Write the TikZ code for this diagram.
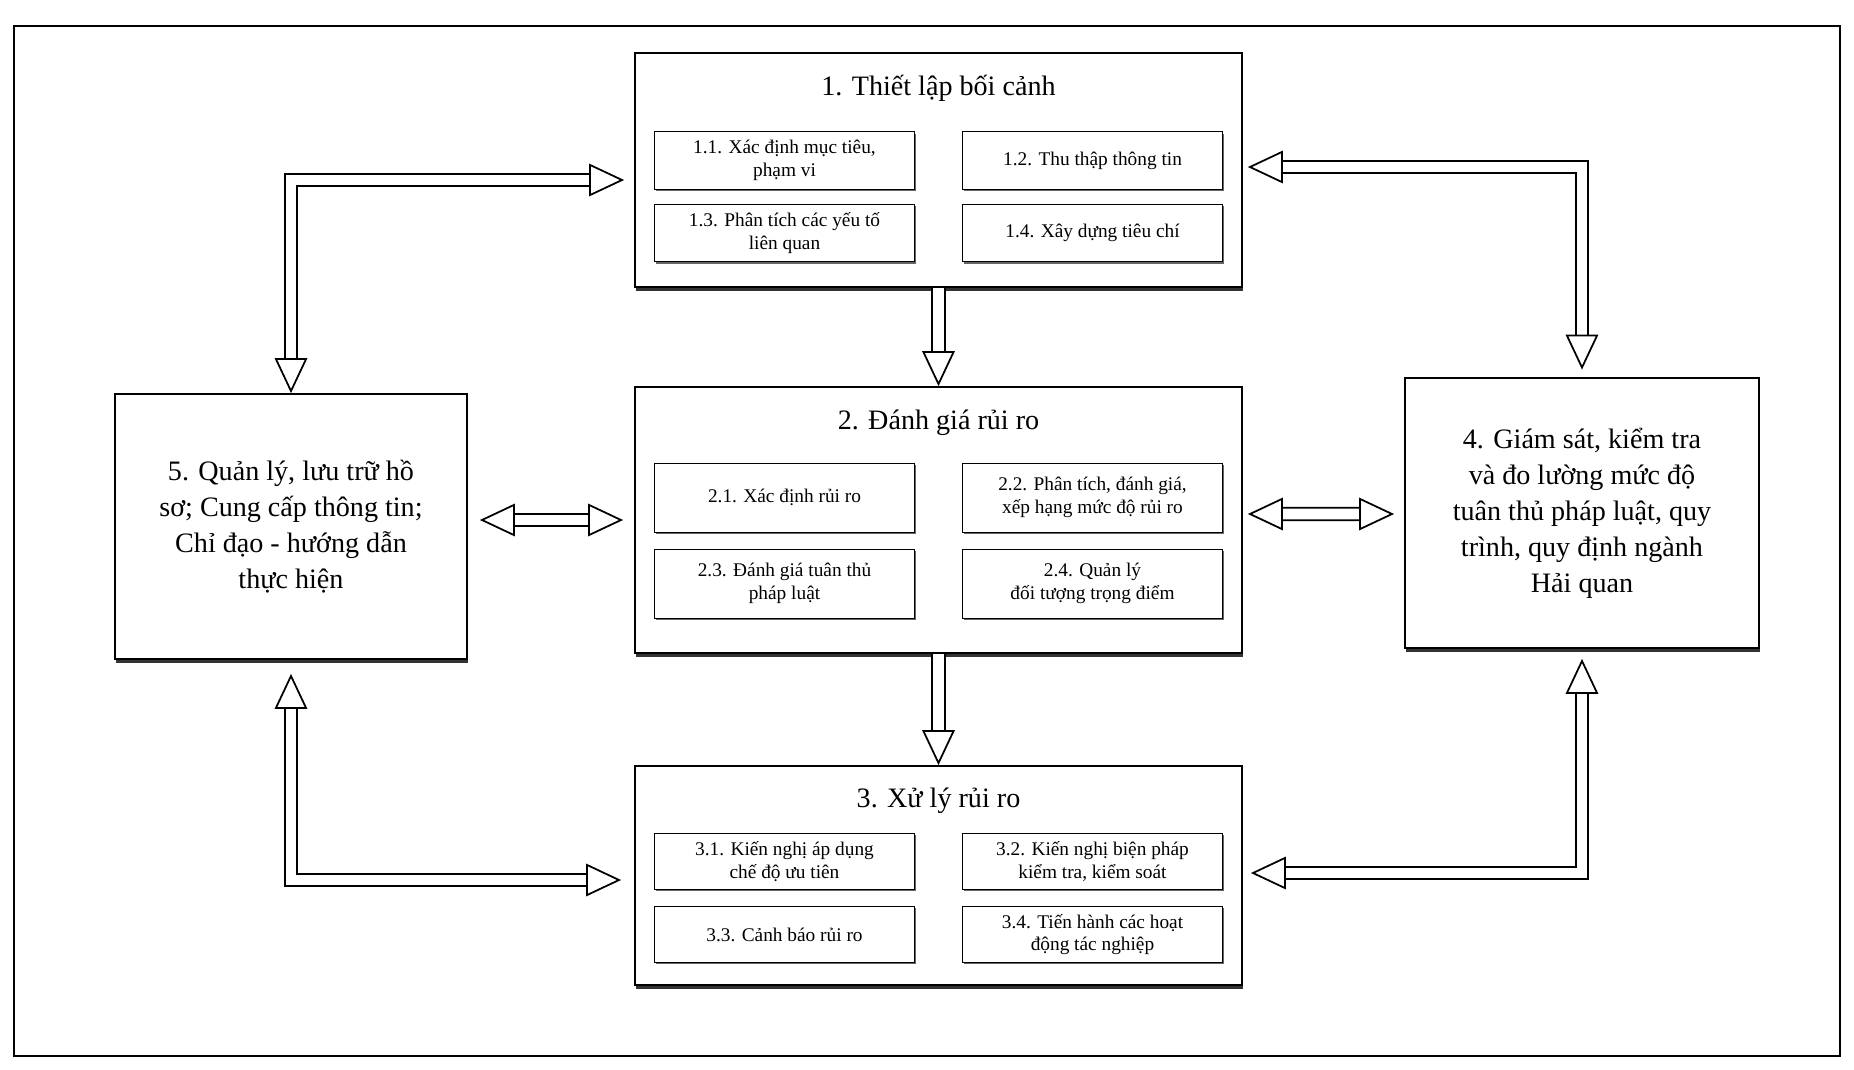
\documentclass[tikz,border=0pt]{standalone}
\usepackage{fontspec}
\setmainfont{Liberation Serif}
\usepackage{tikz}
\usetikzlibrary{positioning, calc, arrows.meta, shadows}
\tikzset{mainbox/.style={draw, line width=1pt, fill=white, inner sep=2pt, align=center, font=\fontsize{16}{20.5}\selectfont, drop shadow={shadow xshift=0.4pt, shadow yshift=-2pt, opacity=1, fill=black!80}}}
\tikzset{stagebox/.style={mainbox, minimum width=12.14cm}}
\tikzset{stagetitle/.style={inner sep=0pt, font=\fontsize{16}{20}\selectfont}}
\tikzset{subbox/.style={draw, line width=0.7pt, fill=white, minimum width=5.2cm, inner sep=1pt, align=center, font=\fontsize{11}{13}\selectfont, drop shadow={shadow xshift=0.8pt, shadow yshift=-1pt, opacity=1, fill=black!60}}}
\tikzset{hollowtip/.tip={Triangle[fill=white, length=0.7cm, width=0.65cm]}}
\tikzset{hollow/.style={line width=1pt, double=white, double distance=6pt}}

\begin{document}
\begin{tikzpicture}

      \useasboundingbox (0,0) rectangle (37.08,-21.38);
      \draw[line width=1pt] (0.28,-0.52) rectangle (36.80,-21.12);

      % STAGES

      \node[stagebox, minimum height=4.68cm] (b1) at (18.77,-3.40) {};
      \node[stagebox, minimum height=5.32cm] (b2) at (18.77,-10.40) {};
      \node[stagebox, minimum height=4.38cm] (b3) at (18.77,-17.51) {};
      \node[mainbox, minimum width=7.04cm, minimum height=5.30cm] (b5) at (5.82,-10.53) {
        5. Quản lý, lưu trữ hồ\\
        sơ; Cung cấp thông tin;\\
        Chỉ đạo - hướng dẫn\\
        thực hiện
      };
      \node[mainbox, minimum width=7.08cm, minimum height=5.40cm] (b4) at (31.64,-10.26) {
        4. Giám sát, kiểm tra\\
        và đo lường mức độ\\
        tuân thủ pháp luật, quy\\
        trình, quy định ngành\\
        Hải quan
      };

      % TITLES

      \node[stagetitle] (t1) at ($(b1.north)-(0,0.72)$) {1. Thiết lập bối cảnh};
      \node[stagetitle] (t2) at ($(b2.north)-(0,0.74)$) {2. Đánh giá rủi ro};
      \node[stagetitle] (t3) at ($(b3.north)-(0,0.72)$) {3. Xử lý rủi ro};

      % SUB-BOXES

      \node[subbox, minimum height=1.15cm] (s11) at ($(b1.north)+(-3.08,-2.17)$) {1.1. Xác định mục tiêu,\\ phạm vi};
      \node[subbox, minimum height=1.15cm] (s12) at ($(b1.north)+(3.08,-2.17)$) {1.2. Thu thập thông tin};
      \node[subbox, minimum height=1.15cm] (s13) at ($(b1.north)+(-3.08,-3.62)$) {1.3. Phân tích các yếu tố\\ liên quan};
      \node[subbox, minimum height=1.15cm] (s14) at ($(b1.north)+(3.08,-3.62)$) {1.4. Xây dựng tiêu chí};

      \node[subbox, minimum height=1.38cm] (s21) at ($(b2.north)+(-3.08,-2.23)$) {2.1. Xác định rủi ro};
      \node[subbox, minimum height=1.38cm] (s22) at ($(b2.north)+(3.08,-2.23)$) {2.2. Phân tích, đánh giá,\\ xếp hạng mức độ rủi ro};
      \node[subbox, minimum height=1.38cm] (s23) at ($(b2.north)+(-3.08,-3.95)$) {2.3. Đánh giá tuân thủ\\ pháp luật};
      \node[subbox, minimum height=1.38cm] (s24) at ($(b2.north)+(3.08,-3.95)$) {2.4. Quản lý\\ đối tượng trọng điểm};

      \node[subbox, minimum height=1.12cm] (s31) at ($(b3.north)+(-3.08,-1.93)$) {3.1. Kiến nghị áp dụng\\ chế độ ưu tiên};
      \node[subbox, minimum height=1.12cm] (s32) at ($(b3.north)+(3.08,-1.93)$) {3.2. Kiến nghị biện pháp\\ kiểm tra, kiểm soát};
      \node[subbox, minimum height=1.12cm] (s33) at ($(b3.north)+(-3.08,-3.39)$) {3.3. Cảnh báo rủi ro};
      \node[subbox, minimum height=1.12cm] (s34) at ($(b3.north)+(3.08,-3.39)$) {3.4. Tiến hành các hoạt\\ động tác nghiệp};

      % ARROWS

      \draw[hollow, -hollowtip] ($(b1.south)$) -- ($(b2.north)$);
      \draw[hollow, -hollowtip] ($(b2.south)$) -- ($(b3.north)$);
      \draw[hollow, hollowtip-hollowtip] ($(b5.north)$) |- ($(b1.west)+(-0.2,-0.2)$);
      \draw[hollow, hollowtip-hollowtip] ($(b1.east)+(0.1,0.06)$) -| ($(b4.north)+(0,0.15)$);
      \draw[hollow, hollowtip-hollowtip] ($(b5.east)+(0.24,0.13)$) -- ($(b2.west)+(-0.22,0)$);
      \draw[hollow, hollowtip-hollowtip] ($(b2.east)+(0.1,0.12)$) -- ($(b4.west)+(-0.2,-0.02)$);
      \draw[hollow, hollowtip-hollowtip] ($(b5.south)+(0,-0.28)$) |- ($(b3.west)+(-0.26,-0.09)$);
      \draw[hollow, hollowtip-hollowtip] ($(b4.south)+(0,-0.2)$) |- ($(b3.east)+(0.16,0.05)$);

\end{tikzpicture}
\end{document}
